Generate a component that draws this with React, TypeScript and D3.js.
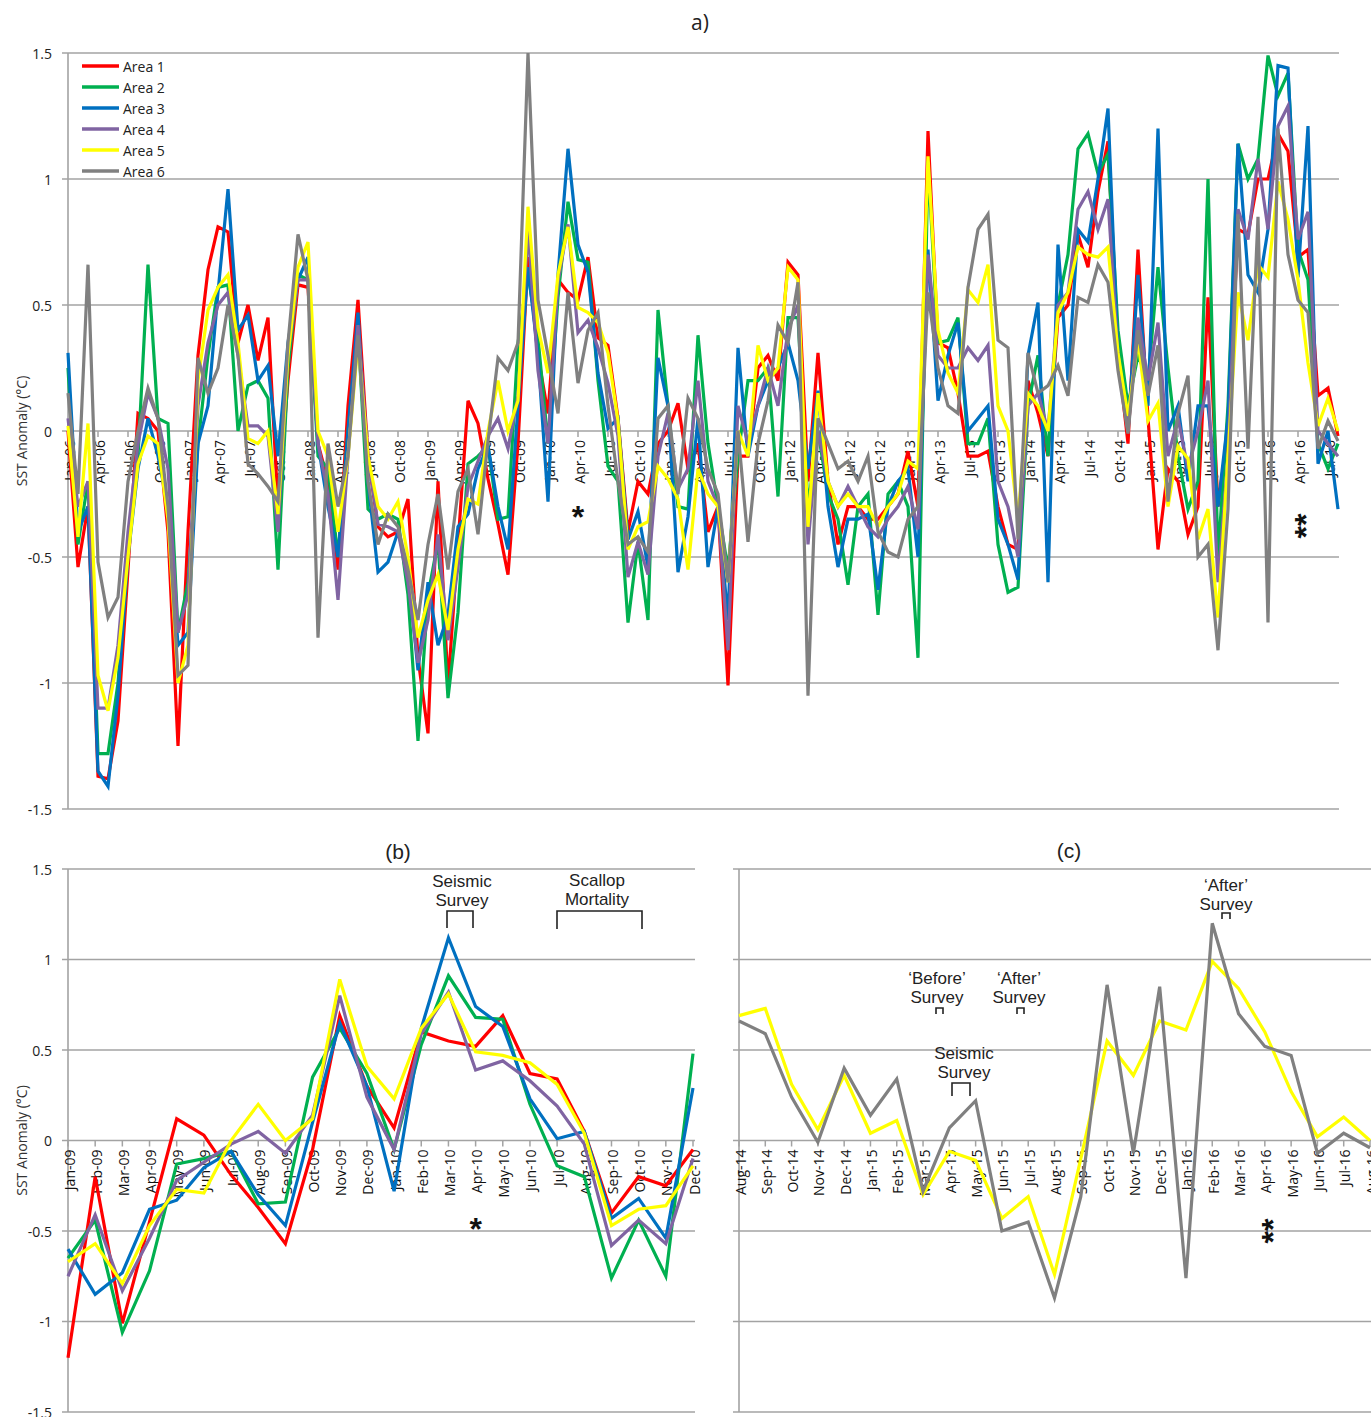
import React from "react";
import * as d3 from "d3";

// ---------- DATA ----------
const monthNames = ["Jan", "Feb", "Mar", "Apr", "May", "Jun", "Jul", "Aug", "Sep", "Oct", "Nov", "Dec"];
const firstYear = 2006; // series start Jan-06, monthly, 128 months to Aug-16

const area1 = [
  0.0, -0.54, -0.3, -1.37, -1.38, -1.15, -0.55, 0.07, 0.05, 0.0, -0.4, -1.25,
  -0.4, 0.3, 0.64, 0.81, 0.79, 0.35, 0.5, 0.28, 0.45, -0.3, 0.2, 0.58,
  0.57, -0.05, -0.2, -0.55, 0.1, 0.52, -0.1, -0.38, -0.42, -0.4, -0.27, -0.9,
  -1.2, -0.2, -1.01, -0.45, 0.12, 0.03, -0.19, -0.37, -0.57, -0.05, 0.69, 0.3,
  0.07, 0.6, 0.55, 0.52, 0.69, 0.37, 0.34, 0.05, -0.4, -0.2, -0.25, -0.05,
  0.0, 0.11, -0.15, -0.05, -0.4, -0.3, -1.01, -0.1, -0.1, 0.25, 0.3, 0.2,
  0.67, 0.62, -0.2, 0.31, -0.2, -0.45, -0.3, -0.3, -0.35, -0.35, -0.3, -0.25,
  -0.08, -0.3, 1.19, 0.35, 0.33, 0.15, -0.1, -0.1, -0.08, -0.3, -0.45, -0.47,
  0.2, 0.07, -0.1, 0.45, 0.5, 0.78, 0.65, 0.95, 1.15, 0.3, -0.05, 0.72,
  0.05, -0.47, -0.15, -0.2, -0.41, -0.3, 0.53, -0.3, 0.0, 0.8, 0.78, 1.0,
  1.0, 1.18, 1.11, 0.69, 0.72, 0.14, 0.17, -0.02,
];
const area2 = [
  0.25, -0.45, -0.2, -1.28, -1.28, -1.0, -0.45, -0.1, 0.66, 0.05, 0.03, -0.8,
  -0.6, -0.05, 0.3, 0.57, 0.58, 0.0, 0.18, 0.2, 0.13, -0.55, 0.25, 0.62,
  0.6, -0.1, -0.15, -0.5, 0.0, 0.4, -0.31, -0.35, -0.33, -0.35, -0.65, -1.23,
  -0.65, -0.44, -1.06, -0.72, -0.13, -0.1, -0.06, -0.35, -0.34, 0.35, 0.62, 0.37,
  -0.05, 0.53, 0.91, 0.68, 0.67, 0.2, -0.14, -0.2, -0.76, -0.44, -0.75, 0.48,
  0.1, -0.3, -0.31, 0.38, -0.05, -0.3, -0.55, -0.1, 0.2, 0.2, 0.25, -0.26,
  0.45, 0.45, -0.3, 0.0, -0.25, -0.35, -0.61, -0.3, -0.25, -0.73, -0.25, -0.2,
  -0.3, -0.9, 1.07, 0.35, 0.36, 0.45, -0.05, -0.05, 0.05, -0.45, -0.64, -0.62,
  0.1, 0.3, -0.1, 0.5, 0.7, 1.12, 1.18, 1.02, 1.1, 0.4, 0.1, 0.3,
  0.2, 0.65, 0.25, -0.1, -0.31, -0.2, 1.0, -0.5, 0.1, 1.14, 1.0, 1.08,
  1.49, 1.33, 1.42, 0.72, 0.6, -0.05, -0.15, -0.05,
];
const area3 = [
  0.31, -0.4, -0.3, -1.35, -1.41, -1.05, -0.5, -0.15, 0.05, -0.1, -0.3, -0.85,
  -0.8, -0.05, 0.1, 0.55, 0.96, 0.4, 0.46, 0.2, 0.26, -0.1, 0.35, 0.6,
  0.69, -0.05, -0.3, -0.5, 0.0, 0.47, -0.2, -0.56, -0.52, -0.4, -0.55, -0.95,
  -0.6, -0.85, -0.73, -0.38, -0.33, -0.15, -0.06, -0.3, -0.47, 0.1, 0.65, 0.3,
  -0.28, 0.62, 1.12, 0.74, 0.63, 0.23, 0.01, 0.05, -0.43, -0.32, -0.54, 0.29,
  0.1, -0.56, -0.34, 0.05, -0.54, -0.3, -0.75, 0.33, -0.1, 0.1, 0.2, 0.25,
  0.35, 0.2, -0.15, 0.16, -0.3, -0.54, -0.35, -0.35, -0.33, -0.63, -0.3, -0.2,
  -0.15, -0.5, 0.72, 0.12, 0.3, 0.43, 0.0, 0.05, 0.1, -0.35, -0.45, -0.59,
  0.3, 0.51, -0.6, 0.74, 0.2, 0.8, 0.75, 1.0, 1.28, 0.3, 0.0, 0.62,
  0.1, 1.2, 0.0, 0.1, -0.2, 0.1, 0.1, -0.3, 0.05, 1.14, 0.62, 0.55,
  0.8, 1.45, 1.44, 0.61, 1.21, -0.13, 0.0, -0.31,
];
const area4 = [
  0.05, -0.3, -0.2, -1.1, -1.1, -0.85, -0.4, -0.05, 0.15, 0.05, -0.15, -0.8,
  -0.65, 0.1, 0.35, 0.5, 0.55, 0.3, 0.02, 0.02, -0.02, -0.4, 0.3, 0.6,
  0.6, -0.05, -0.25, -0.67, -0.1, 0.42, -0.1, -0.37, -0.38, -0.4, -0.6, -0.92,
  -0.75, -0.41, -0.83, -0.54, -0.22, -0.12, -0.02, 0.05, -0.07, 0.14, 0.8, 0.24,
  -0.05, 0.59, 0.82, 0.39, 0.44, 0.33, 0.19, -0.02, -0.58, -0.44, -0.57, -0.1,
  0.07, -0.23, -0.15, 0.2, -0.2, -0.3, -0.87, 0.1, -0.05, 0.1, 0.25, 0.1,
  0.4, 0.5, -0.45, 0.0, -0.2, -0.3, -0.22, -0.3, -0.38, -0.42, -0.35, -0.3,
  -0.22, -0.39, 0.7, 0.3, 0.25, 0.25, 0.33, 0.28, 0.34, -0.2, -0.3, -0.5,
  0.1, 0.15, 0.0, 0.5, 0.55, 0.88, 0.95, 0.8, 0.92, 0.3, 0.0, 0.45,
  0.2, 0.43, -0.1, 0.05, -0.15, 0.0, 0.2, -0.6, -0.1, 0.88, 0.76, 1.08,
  0.8, 1.21, 1.29, 0.76, 0.87, 0.0, -0.05, -0.1,
];
const area5 = [
  0.02, -0.42, 0.03, -0.97, -1.11, -0.9, -0.5, -0.13, -0.02, -0.05, -0.35, -1.0,
  -0.85, 0.2, 0.48, 0.57, 0.62, 0.35, -0.03, -0.05, 0.0, -0.33, 0.3, 0.65,
  0.75, 0.0, -0.1, -0.4, -0.1, 0.35, -0.1, -0.3, -0.35, -0.28, -0.5, -0.82,
  -0.67, -0.57, -0.79, -0.47, -0.27, -0.29, 0.0, 0.2, 0.0, 0.12, 0.89, 0.41,
  0.23, 0.62, 0.81, 0.49, 0.47, 0.43, 0.31, 0.04, -0.47, -0.38, -0.36, -0.14,
  -0.19, -0.27, -0.55, -0.15, -0.25, -0.3, -0.6, 0.0, -0.1, 0.34, 0.2, 0.25,
  0.65, 0.6, -0.38, 0.15, -0.2, -0.3, -0.25, -0.3, -0.3, -0.38, -0.3, -0.25,
  -0.12, -0.15, 1.09, 0.4, 0.23, 0.15, 0.56, 0.51, 0.66, 0.1, 0.0, -0.35,
  0.15, 0.1, 0.0, 0.47, 0.55, 0.73, 0.7, 0.69, 0.73, 0.31, 0.06, 0.36,
  0.04, 0.11, -0.3, -0.06, -0.11, -0.43, -0.31, -0.74, -0.1, 0.55, 0.36, 0.66,
  0.61, 0.99, 0.84, 0.6, 0.27, 0.02, 0.13, 0.0,
];
const area6 = [
  0.15, -0.25, 0.66, -0.52, -0.74, -0.66, -0.2, 0.0, 0.17, 0.05, -0.3, -0.97,
  -0.93, 0.29, 0.15, 0.25, 0.5, 0.3, -0.13, -0.17, -0.22, -0.28, 0.35, 0.78,
  0.6, -0.82, -0.05, -0.3, -0.1, 0.38, -0.2, -0.45, -0.33, -0.38, -0.55, -0.75,
  -0.45, -0.25, -0.55, -0.24, -0.15, -0.41, -0.04, 0.29, 0.24, 0.35, 1.5, 0.52,
  0.3, 0.07, 0.55, 0.19, 0.4, 0.47, 0.1, -0.2, -0.45, -0.42, -0.48, 0.05,
  0.1, -0.25, 0.13, 0.05, -0.15, -0.25, -0.6, 0.0, -0.44, -0.05, 0.12, 0.42,
  0.35, 0.59, -1.05, 0.05, -0.05, -0.15, -0.12, -0.2, -0.1, -0.4, -0.48, -0.5,
  -0.35, -0.3, 0.55, 0.25, 0.1, 0.07, 0.57, 0.8, 0.86, 0.36, 0.33, -0.43,
  0.31, 0.15, 0.18, 0.26, 0.14, 0.53, 0.51, 0.66, 0.59, 0.24, -0.01, 0.4,
  0.14, 0.34, -0.28, 0.07, 0.22, -0.5, -0.45, -0.87, -0.31, 0.86, -0.07, 0.85,
  -0.76, 1.2, 0.7, 0.52, 0.47, -0.07, 0.04, -0.04,
];

const seriesNames = ["Area 1", "Area 2", "Area 3", "Area 4", "Area 5", "Area 6"];
const seriesColors = ["#ff0000", "#00b050", "#0070c0", "#8064a2", "#ffff00", "#808080"];
const yTickValues = [1.5, 1, 0.5, 0, -0.5, -1, -1.5];
const yTickLabels = ["1.5", "1", "0.5", "0", "-0.5", "-1", "-1.5"];

// panel b: Jan-09..Dec-10 (Areas 1-5); panel c: Aug-14..Aug-16 (Areas 5-6)
const panelBStart = 36;
const panelBEnd = 60;
const panelCStart = 103;
const panelCEnd = 128;

// ---------- HELPERS ----------
const allSeries = [area1, area2, area3, area4, area5, area6];
const monthLabel = (i: number) =>
  `${monthNames[i % 12]}-${String((firstYear + Math.floor(i / 12)) % 100).padStart(2, "0")}`;

const FONT = "'Open Sans', 'Noto Sans', sans-serif";
const AFONT = "'Liberation Sans', Arial, sans-serif";
const GRID = "#a3a3a3";

type PanelProps = {
  x: d3.ScaleLinear<number, number>;
  y: d3.ScaleLinear<number, number>;
  start: number;
  end: number;
  seriesIdx: number[];
  labelEvery: number;
  gridLeft: number;
  gridRight: number;
  showYLabels: boolean;
  labelFont: number;
};

function Panel({ x, y, start, end, seriesIdx, labelEvery, gridLeft, gridRight, showYLabels, labelFont }: PanelProps) {
  const n = end - start;
  const y0 = y(0);
  const line = d3
    .line<number>()
    .x((_, i) => x(i))
    .y((d) => y(d));
  const axisX = x(0);
  return (
    <g>
      {yTickValues.map((v, k) => (
        <line key={"g" + k} x1={gridLeft} x2={gridRight} y1={y(v)} y2={y(v)} stroke={GRID} strokeWidth={1.6} />
      ))}
      <line x1={axisX} x2={axisX} y1={y(1.5)} y2={y(-1.5)} stroke={GRID} strokeWidth={1.6} />
      {showYLabels &&
        yTickValues.map((v, k) => (
          <text key={"yl" + k} x={52} y={y(v)} textAnchor="end" dominantBaseline="central" fontFamily={FONT} fontSize={14} fill="#222">
            {yTickLabels[k]}
          </text>
        ))}
      {d3.range(n).filter((i) => (start + i) % labelEvery === 0 || labelEvery === 1).map((i) => (
        <g key={"xt" + i}>
          <line x1={x(i)} x2={x(i)} y1={y0} y2={y0 + 6} stroke={GRID} strokeWidth={1.5} />
          <text
            transform={`translate(${x(i) + 1},${y0 + 9}) rotate(-90)`}
            textAnchor="end"
            dominantBaseline="central"
            fontFamily={FONT}
            fontSize={labelFont}
            fill="#111"
          >
            {monthLabel(start + i)}
          </text>
        </g>
      ))}
      {seriesIdx.map((s) => (
        <path
          key={"s" + s}
          d={line(allSeries[s].slice(start, end)) || ""}
          fill="none"
          stroke={seriesColors[s]}
          strokeWidth={3.2}
          strokeLinejoin="miter"
        />
      ))}
    </g>
  );
}

function Bracket({ x1, x2, y1, y2 }: { x1: number; x2: number; y1: number; y2: number }) {
  return <path d={`M${x1},${y2}V${y1}H${x2}V${y2}`} fill="none" stroke="#222" strokeWidth={1.6} />;
}

function Label2({ x, y, l1, l2, size = 17 }: { x: number; y: number; l1: string; l2: string; size?: number }) {
  return (
    <text x={x} y={y} textAnchor="middle" fontFamily={AFONT} fontSize={size} fill="#222">
      <tspan x={x} dy={0}>{l1}</tspan>
      <tspan x={x} dy={19}>{l2}</tspan>
    </text>
  );
}

export default function App() {
  const xA = d3.scaleLinear().domain([0, 127]).range([68, 1338]);
  const yA = d3.scaleLinear().domain([-1.5, 1.5]).range([809, 53]);
  const xB = d3.scaleLinear().domain([0, panelBEnd - panelBStart - 1]).range([68, 693]);
  const yB = d3.scaleLinear().domain([-1.5, 1.5]).range([1412, 869]);
  const xC = d3.scaleLinear().domain([0, panelCEnd - panelCStart - 1]).range([739, 1370]);

  return (
    <svg width={1371} height={1417} style={{ position: "absolute", left: 0, top: 0, background: "#fff" }}>
      <rect width={1371} height={1417} fill="#fff" />
      {/* panel a */}
      <text x={700} y={30} textAnchor="middle" fontFamily={FONT} fontSize={21} fill="#222">a)</text>
      <Panel x={xA} y={yA} start={0} end={128} seriesIdx={[0, 1, 2, 3, 4, 5]} labelEvery={3} gridLeft={62} gridRight={1339} showYLabels labelFont={14} />
      <text transform={`translate(21,${yA(0)}) rotate(-90)`} textAnchor="middle" dominantBaseline="central" fontFamily={FONT} fontSize={14} fill="#333">
        SST Anomaly (°C)
      </text>
      {seriesNames.map((nm, k) => (
        <g key={"lg" + k}>
          <line x1={82} x2={119} y1={66 + k * 21} y2={66 + k * 21} stroke={seriesColors[k]} strokeWidth={3.5} />
          <text x={123} y={66 + k * 21} dominantBaseline="central" fontFamily={FONT} fontSize={14} fill="#222">{nm}</text>
        </g>
      ))}
      <text x={xA(51)} y={528} textAnchor="middle" fontFamily={AFONT} fontSize={32} fontWeight="bold" fill="#111">*</text>
      <text transform={`translate(${xA(123) + 8},526) rotate(-90)`} textAnchor="middle" dominantBaseline="central" fontFamily={AFONT} fontSize={32} fontWeight="bold" fill="#111">**</text>

      {/* panel b */}
      <text x={398} y={859} textAnchor="middle" fontFamily={AFONT} fontSize={21} fill="#222">(b)</text>
      <Panel x={xB} y={yB} start={panelBStart} end={panelBEnd} seriesIdx={[0, 1, 2, 3, 4]} labelEvery={1} gridLeft={62} gridRight={695} showYLabels labelFont={14} />
      <text transform={`translate(21,${yB(0)}) rotate(-90)`} textAnchor="middle" dominantBaseline="central" fontFamily={FONT} fontSize={14} fill="#333">
        SST Anomaly (°C)
      </text>
      <Label2 x={462} y={887} l1="Seismic" l2="Survey" />
      <Bracket x1={447} x2={473} y1={911} y2={928} />
      <Label2 x={597} y={886} l1="Scallop" l2="Mortality" />
      <Bracket x1={557} x2={642} y1={911} y2={929} />
      <text x={xB(15)} y={1240} textAnchor="middle" fontFamily={AFONT} fontSize={32} fontWeight="bold" fill="#111">*</text>

      {/* panel c */}
      <text x={1069} y={858} textAnchor="middle" fontFamily={AFONT} fontSize={21} fill="#222">(c)</text>
      <Panel x={xC} y={yB} start={panelCStart} end={panelCEnd} seriesIdx={[4, 5]} labelEvery={1} gridLeft={733} gridRight={1371} showYLabels={false} labelFont={14} />
      <Label2 x={937} y={984} l1="‘Before’" l2="Survey" />
      <Bracket x1={936} x2={943} y1={1008} y2={1014} />
      <Label2 x={1019} y={984} l1="‘After’" l2="Survey" />
      <Bracket x1={1017} x2={1024} y1={1008} y2={1014} />
      <Label2 x={964} y={1059} l1="Seismic" l2="Survey" />
      <Bracket x1={952} x2={970} y1={1083} y2={1096} />
      <Label2 x={1226} y={891} l1="‘After’" l2="Survey" />
      <Bracket x1={1222} x2={1230} y1={913} y2={919} />
      <text transform={`translate(${xC(20) + 8},1231) rotate(-90)`} textAnchor="middle" dominantBaseline="central" fontFamily={AFONT} fontSize={32} fontWeight="bold" fill="#111">**</text>
    </svg>
  );
}
